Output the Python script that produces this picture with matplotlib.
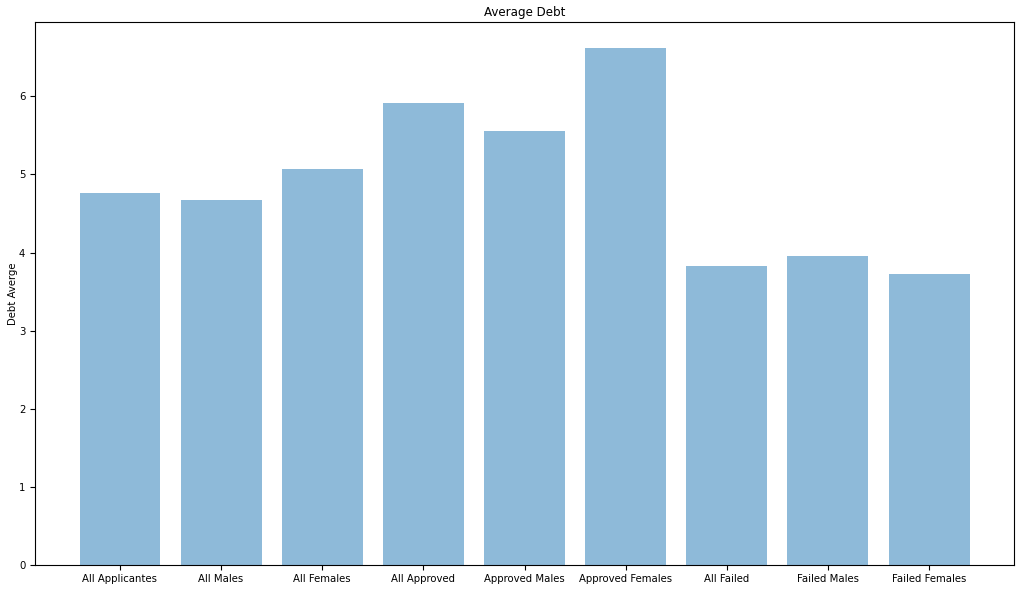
import numpy as np
import matplotlib.pyplot as plt

groups = ["All Applicantes", "All Males", "All Females", "All Approved", "Approved Males",
          "Approved Females", "All Failed", "Failed Males", "Failed Females"]
avg_debt = [4.76, 4.67, 5.07, 5.91, 5.55, 6.62, 3.83, 3.96, 3.72]

fig = plt.figure(figsize=(10.24, 5.89), dpi=100)
ax = fig.add_axes([35 / 1024, 24 / 589, 979 / 1024, 543 / 589])

pos = np.arange(len(groups))
ax.bar(pos, avg_debt, align="center", alpha=0.5)
ax.set_xticks(pos)
ax.set_xticklabels(groups, fontsize=7.3)
ax.tick_params(axis="x", pad=3)
ax.tick_params(axis="y", labelsize=7.3)
ax.set_ylabel("Debt Averge", fontsize=7.3, labelpad=0.5)
ax.set_title("Average Debt", fontsize=8.6, pad=4.5)

plt.savefig("out.png")
